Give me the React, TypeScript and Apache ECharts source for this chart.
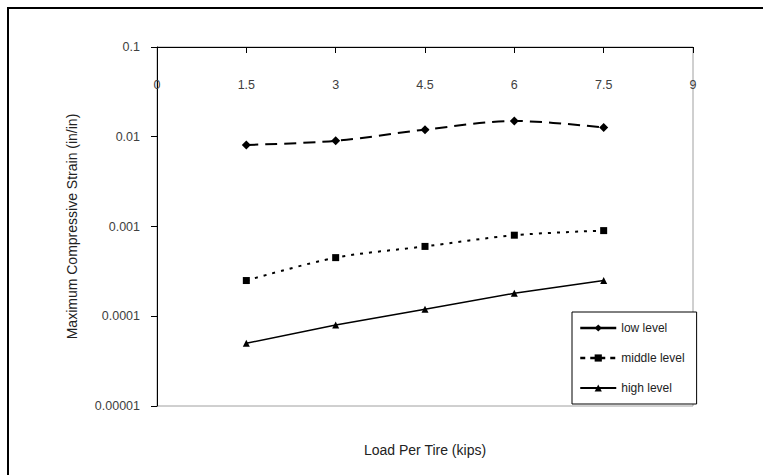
import React, { useEffect, useRef } from "react";
import * as echarts from "echarts";

const loads = [1.5, 3, 4.5, 6, 7.5];
const lowLevel = [0.0081, 0.009, 0.012, 0.015, 0.0127];
const middleLevel = [0.00025, 0.00045, 0.0006, 0.0008, 0.0009];
const highLevel = [0.00005, 0.00008, 0.00012, 0.00018, 0.00025];
const seriesNames = ["low level", "middle level", "high level"];
const xAxisTitle = "Load Per Tire (kips)";
const yAxisTitle = "Maximum Compressive Strain (in/in)";

const FONT = "'Liberation Sans', Arial, sans-serif";

export default function App() {
  const ref = useRef<HTMLDivElement>(null);
  useEffect(() => {
    if (!ref.current) return;
    const chart = echarts.init(ref.current, null, { renderer: "svg" });
    const toPts = (arr: number[]) => loads.map((x, i) => [x, arr[i]]);
    chart.setOption({
      animation: false,
      backgroundColor: "#ffffff",
      textStyle: { fontFamily: FONT },
      grid: {
        left: 157,
        right: 70,
        top: 47,
        bottom: 69,
        show: true,
        borderColor: "#a0a0a0",
        borderWidth: 1,
        backgroundColor: "transparent",
      },
      xAxis: {
        type: "value",
        position: "top",
        min: 0,
        max: 9,
        interval: 1.5,
        splitLine: { show: false },
        axisLine: { show: true, lineStyle: { color: "#000", width: 1 } },
        axisTick: { show: true, inside: true, length: 6, lineStyle: { color: "#000" } },
        axisLabel: {
          inside: true,
          margin: 31,
          color: "#404040",
          fontSize: 12.5,
          fontFamily: FONT,
          showMinLabel: true,
          showMaxLabel: true,
        },
      },
      yAxis: {
        type: "log",
        logBase: 10,
        min: 0.00001,
        max: 0.1,
        splitLine: { show: false },
        minorTick: { show: false },
        axisLine: { show: true, lineStyle: { color: "#000", width: 1 } },
        axisTick: { show: true, inside: false, length: 6, lineStyle: { color: "#000" } },
        axisLabel: {
          margin: 17,
          color: "#404040",
          fontSize: 12.5,
          fontFamily: FONT,
          formatter: (v: number) => {
            const d = Math.round(-Math.log10(v));
            return v.toFixed(Math.max(d, 0));
          },
        },
        name: yAxisTitle,
        nameLocation: "middle",
        nameGap: 78,
        nameRotate: 90,
        nameTextStyle: { color: "#222", fontSize: 14, fontFamily: FONT },
      },
      legend: {
        orient: "vertical",
        left: 572,
        top: 312,
        padding: [10, 12, 10, 7],
        itemGap: 18,
        itemWidth: 36,
        itemHeight: 9,
        backgroundColor: "#fff",
        borderColor: "#000",
        borderWidth: 1,
        borderRadius: 0,
        textStyle: { color: "#222", fontSize: 12, fontFamily: FONT },
        data: [
          { name: seriesNames[0], lineStyle: { type: "solid", width: 2.5 } },
          { name: seriesNames[1], lineStyle: { type: [5, 5], width: 2.5 } },
          { name: seriesNames[2], lineStyle: { type: "solid", width: 2 } },
        ],
      },
      graphic: [
        {
          type: "rect",
          shape: { x: 8, y: 8, width: 800, height: 520 },
          style: { fill: "none", stroke: "#000", lineWidth: 2 },
          silent: true,
          z: 100,
        },
        {
          type: "text",
          x: 425,
          y: 450,
          style: {
            text: xAxisTitle,
            fill: "#222",
            font: `14px ${FONT}`,
            textAlign: "center",
            textVerticalAlign: "middle",
          },
        },
      ],
      series: [
        {
          name: seriesNames[0],
          type: "line",
          data: toPts(lowLevel),
          smooth: 0.3,
          symbol: "diamond",
          symbolSize: 9,
          itemStyle: { color: "#000" },
          lineStyle: { color: "#000", width: 2, type: [12, 7] },
        },
        {
          name: seriesNames[1],
          type: "line",
          data: toPts(middleLevel),
          smooth: 0.3,
          symbol: "rect",
          symbolSize: 7,
          itemStyle: { color: "#000" },
          lineStyle: { color: "#000", width: 2, type: [3, 6] },
        },
        {
          name: seriesNames[2],
          type: "line",
          data: toPts(highLevel),
          symbol: "triangle",
          symbolSize: 7,
          itemStyle: { color: "#000" },
          lineStyle: { color: "#000", width: 1.5, type: "solid" },
        },
      ],
    });
    return () => chart.dispose();
  }, []);
  return (
    <div
      ref={ref}
      style={{ position: "fixed", left: 0, top: 0, width: 763, height: 475, background: "#fff" }}
    />
  );
}
